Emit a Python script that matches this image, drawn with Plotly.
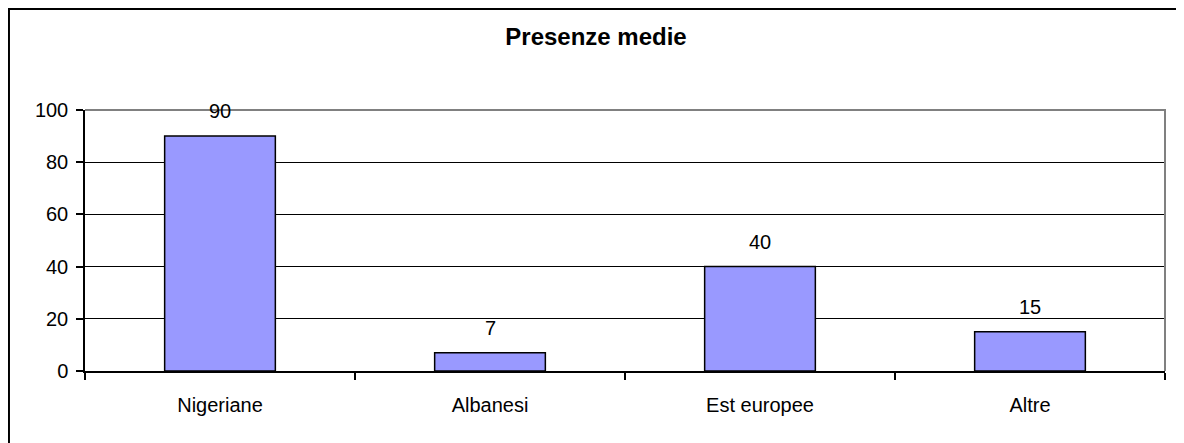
import plotly.graph_objects as go

categories = ["Nigeriane", "Albanesi", "Est europee", "Altre"]
values = [90, 7, 40, 15]
title_text = "Presenze medie"
y_ticks = [0, 20, 40, 60, 80, 100]

FONT = "Liberation Sans, Arial, sans-serif"

fig = go.Figure()
fig.add_trace(go.Bar(
    x=categories, y=values, width=0.41,
    marker=dict(color="#9999FF", line=dict(color="black", width=1.5)),
    hoverinfo="x+y",
))

for c, v in zip(categories, values):
    fig.add_annotation(x=c, y=v, text=str(v), showarrow=False,
                       yanchor="middle", yshift=25,
                       font=dict(family=FONT, size=20, color="black"))

# gray plot-area border on top and right
fig.add_shape(type="path", xref="paper", yref="paper",
              path="M 0,1 L 1,1 L 1,0", line=dict(color="#808080", width=2),
              layer="above")
# outer chart border (left + top visible)
fig.add_shape(type="rect", xref="paper", yref="paper",
              x0=-0.0704, x1=1.3, y0=-0.6, y1=1.387,
              line=dict(color="black", width=2), layer="above")

fig.update_layout(
    width=1176, height=435,
    margin=dict(l=77, r=19, t=102, b=72),
    paper_bgcolor="white", plot_bgcolor="white",
    font=dict(family=FONT, size=20, color="black"),
    showlegend=False,
    title=dict(text="<b>" + title_text + "</b>", x=0.5, y=0.9333,
               xanchor="center", yanchor="middle",
               font=dict(family=FONT, size=24, color="black")),
    xaxis=dict(showgrid=False, showline=True, linecolor="black", linewidth=1.5,
               ticks="outside", tickson="boundaries", ticklen=7, tickcolor="black",
               tickwidth=1.5, ticklabelstandoff=15, zeroline=False,
               tickfont=dict(family=FONT, size=20, color="black")),
    yaxis=dict(range=[0, 100], tickvals=y_ticks, showgrid=True, gridcolor="black",
               gridwidth=1, showline=True, linecolor="black", linewidth=1.5,
               ticks="outside", ticklen=7, tickcolor="black", tickwidth=1.5,
               ticklabelstandoff=4, zeroline=False,
               tickfont=dict(family=FONT, size=20, color="black")),
)

fig.write_html("out.html")
